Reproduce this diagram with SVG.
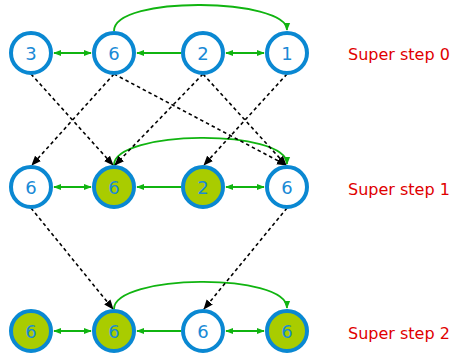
<svg xmlns="http://www.w3.org/2000/svg" width="454" height="354" viewBox="0 0 454 354">
<defs>
<style>
.n circle{stroke:#0a88d2;stroke-width:4;fill:#fff}
.n.g circle{fill:#a9cc00}
.n text{font-family:"DejaVu Sans",sans-serif;font-size:18px;fill:#1a8ad6;text-anchor:middle}
.lbl{font-family:"DejaVu Sans",sans-serif;font-size:16px;fill:#e00000}
.ge{stroke:#10b410;stroke-width:1.8;fill:none}
.de{stroke:#000;stroke-width:1.6;fill:none;stroke-dasharray:3.5,3}
</style>
<marker id="ga" viewBox="0 0 10 10" refX="9" refY="5" markerWidth="8" markerHeight="8" orient="auto-start-reverse" markerUnits="userSpaceOnUse"><path d="M0,1 L10,5 L0,9 z" fill="#10b410"/></marker>
<marker id="ka" viewBox="0 0 10 10" refX="9" refY="5" markerWidth="10" markerHeight="10" orient="auto" markerUnits="userSpaceOnUse"><path d="M0,1 L10,5 L0,9 z" fill="#000"/></marker>
</defs>
<g id="connectors">
<line class="ge" x1="54" y1="53" x2="91" y2="53" marker-start="url(#ga)" marker-end="url(#ga)"/>
<line class="ge" x1="181" y1="53" x2="137" y2="53" marker-end="url(#ga)"/>
<line class="ge" x1="226" y1="53" x2="264" y2="53" marker-start="url(#ga)" marker-end="url(#ga)"/>
<path class="ge" d="M114,31 C114,-5 287,-2 287,30" marker-end="url(#ga)"/>
<line class="ge" x1="54" y1="187" x2="91" y2="187" marker-start="url(#ga)" marker-end="url(#ga)"/>
<line class="ge" x1="181" y1="187" x2="137" y2="187" marker-end="url(#ga)"/>
<line class="ge" x1="226" y1="187" x2="264" y2="187" marker-start="url(#ga)" marker-end="url(#ga)"/>
<path class="ge" d="M114,165 C114,130 287,128 287,164" marker-end="url(#ga)"/>
<line class="ge" x1="54" y1="331" x2="91" y2="331" marker-start="url(#ga)" marker-end="url(#ga)"/>
<line class="ge" x1="181" y1="331" x2="137" y2="331" marker-end="url(#ga)"/>
<line class="ge" x1="226" y1="331" x2="264" y2="331" marker-start="url(#ga)" marker-end="url(#ga)"/>
<path class="ge" d="M114,309 C114,274 287,272 287,308" marker-end="url(#ga)"/>
<line class="de" x1="31" y1="74" x2="113" y2="165" marker-end="url(#ka)"/>
<line class="de" x1="114" y1="74" x2="32" y2="165" marker-end="url(#ka)"/>
<line class="de" x1="114" y1="74" x2="286" y2="165" marker-end="url(#ka)"/>
<line class="de" x1="203" y1="74" x2="115" y2="165" marker-end="url(#ka)"/>
<line class="de" x1="203" y1="74" x2="286" y2="165" marker-end="url(#ka)"/>
<line class="de" x1="287" y1="74" x2="204" y2="165" marker-end="url(#ka)"/>
<line class="de" x1="31" y1="208" x2="113" y2="309" marker-end="url(#ka)"/>
<line class="de" x1="287" y1="208" x2="204" y2="309" marker-end="url(#ka)"/>
</g>
<g id="n00" class="n"><circle cx="31" cy="53" r="20"/><text x="31" y="59.5">3</text></g>
<g id="n01" class="n"><circle cx="114" cy="53" r="20"/><text x="114" y="59.5">6</text></g>
<g id="n02" class="n"><circle cx="203" cy="53" r="20"/><text x="203" y="59.5">2</text></g>
<g id="n03" class="n"><circle cx="287" cy="53" r="20"/><text x="287" y="59.5">1</text></g>
<g id="n10" class="n"><circle cx="31" cy="187" r="20"/><text x="31" y="193.5">6</text></g>
<g id="n11" class="n g"><circle cx="114" cy="187" r="20"/><text x="114" y="193.5">6</text></g>
<g id="n12" class="n g"><circle cx="203" cy="187" r="20"/><text x="203" y="193.5">2</text></g>
<g id="n13" class="n"><circle cx="287" cy="187" r="20"/><text x="287" y="193.5">6</text></g>
<g id="n20" class="n g"><circle cx="31" cy="331" r="20"/><text x="31" y="337.5">6</text></g>
<g id="n21" class="n g"><circle cx="114" cy="331" r="20"/><text x="114" y="337.5">6</text></g>
<g id="n22" class="n"><circle cx="203" cy="331" r="20"/><text x="203" y="337.5">6</text></g>
<g id="n23" class="n g"><circle cx="287" cy="331" r="20"/><text x="287" y="337.5">6</text></g>
<text class="lbl" x="348" y="60">Super step 0</text>
<text class="lbl" x="348" y="195">Super step 1</text>
<text class="lbl" x="348" y="339">Super step 2</text>
</svg>
